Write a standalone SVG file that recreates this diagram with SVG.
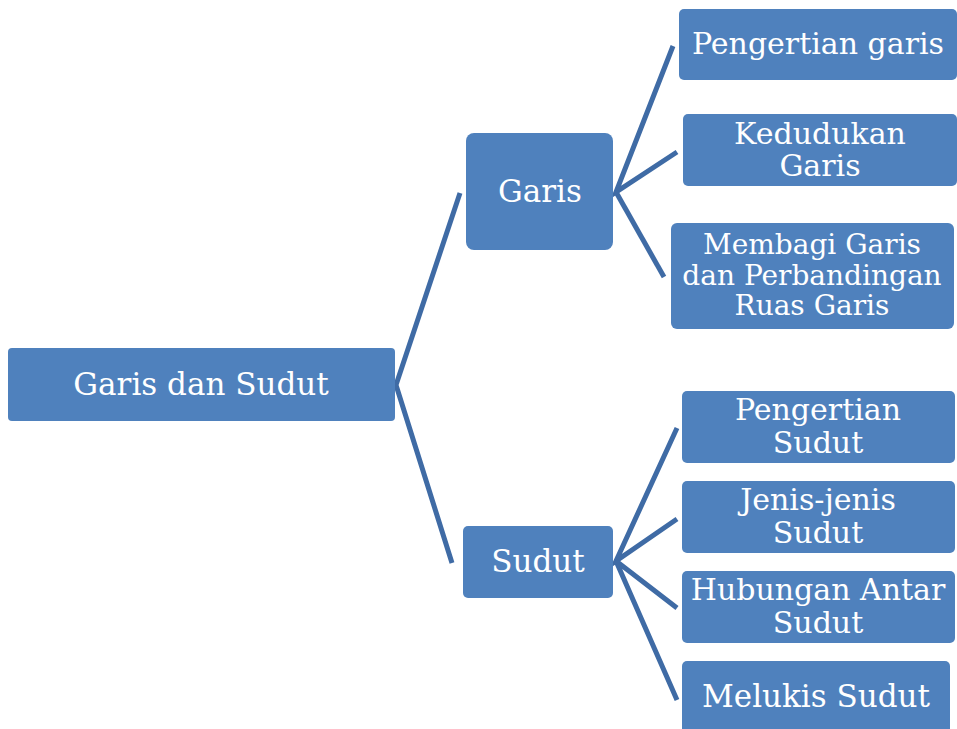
<svg xmlns="http://www.w3.org/2000/svg" width="957" height="729" viewBox="0 0 957 729">
<style>
.box{fill:#4f81bd;}
.t{fill:#ffffff;font-family:"DejaVu Serif","Liberation Serif",serif;font-size:31px;text-anchor:middle;}
.s{font-size:30px;}
.m{font-size:28px;}
.c{stroke:#3f6ba5;stroke-width:5;fill:none;stroke-linecap:butt;stroke-linejoin:miter;}
</style>
<rect width="957" height="729" fill="#ffffff"/>
<g id="connectors">
<polyline class="c" points="460,193 396,385 452,563"/>
<polyline class="c" points="673,46 616,192 677,152"/>
<line class="c" x1="616" y1="192" x2="664" y2="277"/>
<polyline class="c" points="677,428 616,561 677,519"/>
<polyline class="c" points="677,608 616,561 677,700"/>
</g>
<g id="root"><rect class="box" x="8" y="348" width="387" height="73" rx="4"/><text class="t" x="201" y="395">Garis dan Sudut</text></g>
<g id="garis"><rect class="box" x="466" y="133" width="147" height="117" rx="8"/><text class="t" x="540" y="202">Garis</text></g>
<g id="sudut"><rect class="box" x="463" y="526" width="150" height="72" rx="5"/><text class="t" x="538" y="572">Sudut</text></g>
<g id="pengertian-garis"><rect class="box" x="679" y="9" width="278" height="71" rx="5"/><text class="t s" x="818" y="54">Pengertian garis</text></g>
<g id="kedudukan-garis"><rect class="box" x="683" y="114" width="274" height="72" rx="5"/><text class="t s" x="820" y="144">Kedudukan</text><text class="t s" x="820" y="176">Garis</text></g>
<g id="membagi-garis"><rect class="box" x="671" y="223" width="283" height="106" rx="6"/><text class="t m" x="812" y="254">Membagi Garis</text><text class="t m" x="812" y="285">dan Perbandingan</text><text class="t m" x="812" y="315">Ruas Garis</text></g>
<g id="pengertian-sudut"><rect class="box" x="682" y="391" width="273" height="72" rx="5"/><text class="t s" x="818" y="420">Pengertian</text><text class="t s" x="818" y="453">Sudut</text></g>
<g id="jenis-sudut"><rect class="box" x="682" y="481" width="273" height="72" rx="5"/><text class="t s" x="818" y="510">Jenis-jenis</text><text class="t s" x="818" y="543">Sudut</text></g>
<g id="hubungan-sudut"><rect class="box" x="682" y="571" width="273" height="72" rx="5"/><text class="t s" x="818" y="600">Hubungan Antar</text><text class="t s" x="818" y="633">Sudut</text></g>
<g id="melukis-sudut"><rect class="box" x="682" y="661" width="268" height="80" rx="5"/><text class="t" x="816" y="707">Melukis Sudut</text></g>
</svg>
